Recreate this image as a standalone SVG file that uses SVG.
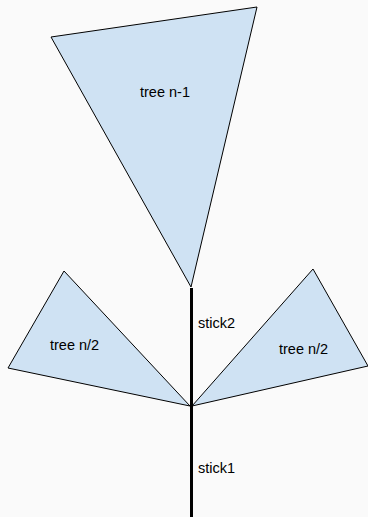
<svg xmlns="http://www.w3.org/2000/svg" width="368" height="517" viewBox="0 0 368 517">
  <style>
    .tree { fill: #cfe2f3; stroke: #000; stroke-width: 1; stroke-linejoin: miter; }
    .stick { stroke: #000; stroke-width: 3; fill: none; }
    .lbl { font-family: "Liberation Sans", Arial, sans-serif; font-size: 14.5px; fill: #000; }
  </style>
  <rect width="368" height="517" fill="#fafafa"/>
  <g id="connectors">
    <line class="stick" x1="191.5" y1="288" x2="191.5" y2="517"/>
  </g>
  <g id="tree-top">
    <polygon class="tree" points="51,37 257,7 191,287"/>
    <text class="lbl" x="140" y="97">tree n-1</text>
  </g>
  <g id="tree-left">
    <polygon class="tree" points="64,271 8,368 190,406"/>
    <text class="lbl" x="50" y="350">tree n/2</text>
  </g>
  <g id="tree-right">
    <polygon class="tree" points="313,269 368,366 192,406"/>
    <text class="lbl" x="279" y="354">tree n/2</text>
  </g>
  <g id="stick2">
    <text class="lbl" x="198" y="328">stick2</text>
  </g>
  <g id="stick1">
    <text class="lbl" x="198" y="473">stick1</text>
  </g>
</svg>
